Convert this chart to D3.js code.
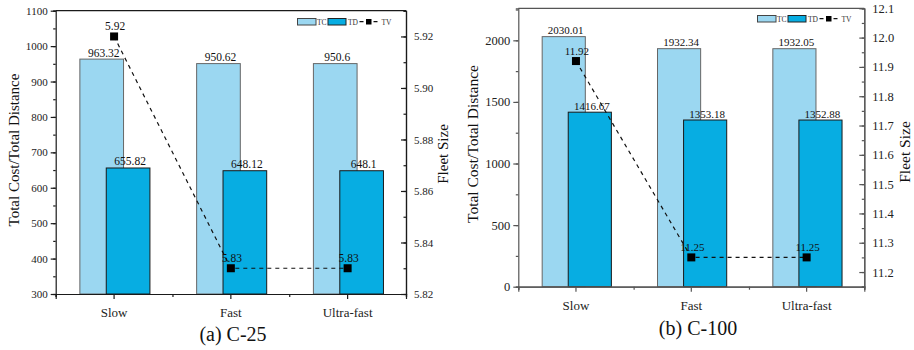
<!DOCTYPE html>
<html>
<head>
<meta charset="utf-8">
<script src="https://cdn.jsdelivr.net/npm/d3@7"></script>
<style>
  body { margin: 0; background: #fff; }
  svg text { font-family: "Liberation Serif", "Times New Roman", serif; }
</style>
</head>
<body>
<svg width="914" height="350"></svg>
<script>
// categories and series values
const categories = ["Slow", "Fast", "Ultra-fast"];

const tcA = [963.32, 950.62, 950.6];
const tdA = [655.82, 648.12, 648.1];
const tvA = [5.92, 5.83, 5.83];

const tcB = [2030.01, 1932.34, 1932.05];
const tdB = [1416.67, 1353.18, 1352.88];
const tvB = [11.92, 11.25, 11.25];

// tick labels
const leftTicksA = [300, 400, 500, 600, 700, 800, 900, 1000, 1100];
const rightTicksA = [5.82, 5.84, 5.86, 5.88, 5.90, 5.92];
const leftTicksB = [0, 500, 1000, 1500, 2000];
const rightTicksB = [11.2, 11.3, 11.4, 11.5, 11.6, 11.7, 11.8, 11.9, 12.0, 12.1];

const seriesNames = ["TC", "TD", "TV"];
const colTC = "#9bd7f1", colTD = "#07ade2";

var svg = d3.select("svg");

function drawPanel(p) {
  var g = svg.append("g");
  var x = d3.scaleBand().domain(categories).range([p.left, p.right]).padding(0);
  var yL = d3.scaleLinear().domain(p.leftDomain).range([p.bottom, p.top]);
  var yR = d3.scaleLinear().domain(p.rightDomain).range([p.bottom, p.top]);
  var bw = x.bandwidth();
  var cx = function(d) { return x(d) + bw / 2; };
  var barW = bw * 0.374;

  // bars: TC behind, TD in front (overlapping)
  g.selectAll(".tc").data(categories).enter().append("rect")
    .attr("x", d => cx(d) - bw * 0.293)
    .attr("y", (d, i) => yL(p.tc[i]))
    .attr("width", barW)
    .attr("height", (d, i) => p.bottom - yL(p.tc[i]))
    .attr("fill", colTC).attr("stroke", "#666").attr("stroke-width", 1);

  g.selectAll(".td").data(categories).enter().append("rect")
    .attr("x", d => cx(d) - bw * 0.067)
    .attr("y", (d, i) => yL(p.td[i]))
    .attr("width", barW)
    .attr("height", (d, i) => p.bottom - yL(p.td[i]))
    .attr("fill", colTD).attr("stroke", "#1a1a1a").attr("stroke-width", 1);

  // bar labels
  g.selectAll(".tcl").data(categories).enter().append("text")
    .attr("x", d => cx(d) - bw * 0.293 + barW / 2 + 2)
    .attr("y", (d, i) => yL(p.tc[i]) - 2.5)
    .attr("text-anchor", "middle").attr("font-size", p.labelSize).attr("fill", "#111")
    .text((d, i) => p.tc[i]);
  g.selectAll(".tdl").data(categories).enter().append("text")
    .attr("x", d => cx(d) - bw * 0.067 + barW / 2 + 2)
    .attr("y", (d, i) => yL(p.td[i]) - 2.5)
    .attr("text-anchor", "middle").attr("font-size", p.labelSize).attr("fill", "#111")
    .text((d, i) => p.td[i]);

  // TV dashed line + square markers
  var line = d3.line().x((d, i) => cx(categories[i])).y(d => yR(d));
  g.append("path").datum(p.tv)
    .attr("d", line).attr("fill", "none").attr("stroke", "#111")
    .attr("stroke-width", 1.2).attr("stroke-dasharray", "4,4");
  g.selectAll(".tvm").data(p.tv).enter().append("rect")
    .attr("x", (d, i) => cx(categories[i]) - 4)
    .attr("y", d => yR(d) - 4)
    .attr("width", 8).attr("height", 8).attr("fill", "#000");
  g.selectAll(".tvl").data(p.tv).enter().append("text")
    .attr("x", (d, i) => cx(categories[i]) + 1)
    .attr("y", d => yR(d) - 6)
    .attr("text-anchor", "middle").attr("font-size", p.labelSize).attr("fill", "#111")
    .text(d => d.toFixed(2));

  // frame top line
  g.append("line").attr("x1", p.left).attr("x2", p.right)
    .attr("y1", p.top).attr("y2", p.top).attr("stroke", p.axisColor).attr("stroke-width", 1.2);

  function styleAxis(a) {
    a.selectAll("path").attr("stroke", p.axisColor).attr("stroke-width", 1.2);
    a.selectAll("line").attr("stroke", p.axisColor).attr("stroke-width", 1.2);
    a.selectAll("text").attr("fill", "#222");
  }

  // left axis: minor then major
  var la = g.append("g").attr("transform", "translate(" + p.left + ",0)")
    .call(d3.axisLeft(yL).tickValues(d3.range(p.leftDomain[0], p.leftDomain[1] + 0.001, p.leftMinor)).tickSize(2.5).tickFormat(""));
  styleAxis(la);
  var lb = g.append("g").attr("transform", "translate(" + p.left + ",0)")
    .call(d3.axisLeft(yL).tickValues(p.leftTicks).tickSize(5).tickPadding(3).tickFormat(d3.format("d")));
  styleAxis(lb);
  lb.selectAll("text").attr("font-size", p.tickSize);
  lb.select("path").remove();

  // right axis: ticks point inward
  var minorR = [];
  for (var v = p.rightTicks[0] - p.rightStep / 2; v <= p.rightDomain[1] + 1e-9; v += p.rightStep / 2) {
    if (v >= p.rightDomain[0] - 1e-9) minorR.push(v);
  }
  var ra = g.append("g").attr("transform", "translate(" + p.right + ",0)")
    .call(d3.axisLeft(yR).tickValues(minorR).tickSize(2.5).tickFormat(""));
  styleAxis(ra);
  var rb = g.append("g").attr("transform", "translate(" + p.right + ",0)")
    .call(d3.axisRight(yR).tickValues(p.rightTicks).tickSize(0).tickPadding(8).tickFormat(p.rightFormat));
  styleAxis(rb);
  rb.selectAll("text").attr("font-size", p.tickSize);
  rb.selectAll(".tick").append("line").attr("x1", -5).attr("x2", 0)
    .attr("stroke", p.axisColor).attr("stroke-width", 1.2);

  // bottom axis: centre ticks + boundary ticks
  var bx = d3.scaleLinear().domain([0, categories.length]).range([p.left, p.right]);
  var b1 = g.append("g").attr("transform", "translate(0," + p.bottom + ")")
    .call(d3.axisBottom(bx).tickValues(d3.range(0, categories.length + 1)).tickSize(3).tickFormat(""));
  styleAxis(b1);
  var b2 = g.append("g").attr("transform", "translate(0," + p.bottom + ")")
    .call(d3.axisBottom(x).tickSize(5).tickPadding(p.xPad));
  styleAxis(b2);
  b2.selectAll("text").attr("font-size", 13);

  // axis titles
  g.append("text")
    .attr("transform", "translate(" + p.ltX + "," + p.ltY + ") rotate(-90)")
    .attr("text-anchor", "middle").attr("font-size", p.titleSize).attr("fill", "#111")
    .text("Total Cost/Total Distance");
  g.append("text")
    .attr("transform", "translate(" + p.rtX + "," + p.rtY + ") rotate(-90)")
    .attr("text-anchor", "middle").attr("font-size", p.titleSize).attr("fill", "#111")
    .text("Fleet Size");

  // caption
  g.append("text").attr("x", p.capX).attr("y", p.capY)
    .attr("text-anchor", "middle").attr("font-size", 20).attr("fill", "#111")
    .text(p.caption);

  // legend
  var lg = g.append("g").attr("transform", "translate(" + p.legX + "," + p.legY + ")");
  lg.append("rect").attr("x", 0).attr("y", 0).attr("width", 18.5).attr("height", 6.5)
    .attr("fill", colTC).attr("stroke", "#444").attr("stroke-width", 1);
  lg.append("text").attr("x", 19.5).attr("y", 6.3).attr("font-size", 7.5).attr("fill", "#333").text(seriesNames[0]);
  lg.append("rect").attr("x", 30.5).attr("y", 0).attr("width", 18).attr("height", 6.5)
    .attr("fill", colTD).attr("stroke", "#222").attr("stroke-width", 1);
  lg.append("text").attr("x", 50.5).attr("y", 6.3).attr("font-size", 7.5).attr("fill", "#333").text(seriesNames[1]);
  lg.append("line").attr("x1", 62).attr("x2", 80).attr("y1", 3.2).attr("y2", 3.2)
    .attr("stroke", "#111").attr("stroke-width", 1.2).attr("stroke-dasharray", "4,3");
  lg.append("rect").attr("x", 68.5).attr("y", 0.5).attr("width", 5.5).attr("height", 5.5).attr("fill", "#000");
  lg.append("text").attr("x", 84).attr("y", 6.3).attr("font-size", 7.5).attr("fill", "#333").text(seriesNames[2]);
}

drawPanel({
  left: 55.7, right: 406, top: 10.7, bottom: 294,
  leftDomain: [300, 1100], rightDomain: [5.82, 5.93],
  leftTicks: leftTicksA, leftMinor: 50,
  rightTicks: rightTicksA, rightStep: 0.02, rightFormat: d3.format(".2f"),
  tc: tcA, td: tdA, tv: tvA,
  axisColor: "#1a1a1a", tickSize: 11, labelSize: 11.5, titleSize: 15, xPad: 9,
  ltX: 19, ltY: 150, rtX: 448, rtY: 154,
  capX: 233, capY: 341, caption: "(a) C-25",
  legX: 297.5, legY: 18.5
});

drawPanel({
  left: 518.3, right: 864.3, top: 8.3, bottom: 286.7,
  leftDomain: [0, 2260], rightDomain: [11.15, 12.1],
  leftTicks: leftTicksB, leftMinor: 250,
  rightTicks: rightTicksB, rightStep: 0.1, rightFormat: d3.format(".1f"),
  tc: tcB, td: tdB, tv: tvB,
  axisColor: "#555", tickSize: 12.5, labelSize: 11, titleSize: 15.5, xPad: 9,
  ltX: 478, ltY: 144, rtX: 910, rtY: 152,
  capX: 698, capY: 335, caption: "(b) C-100",
  legX: 757.5, legY: 15.5
});
</script>
</body>
</html>
